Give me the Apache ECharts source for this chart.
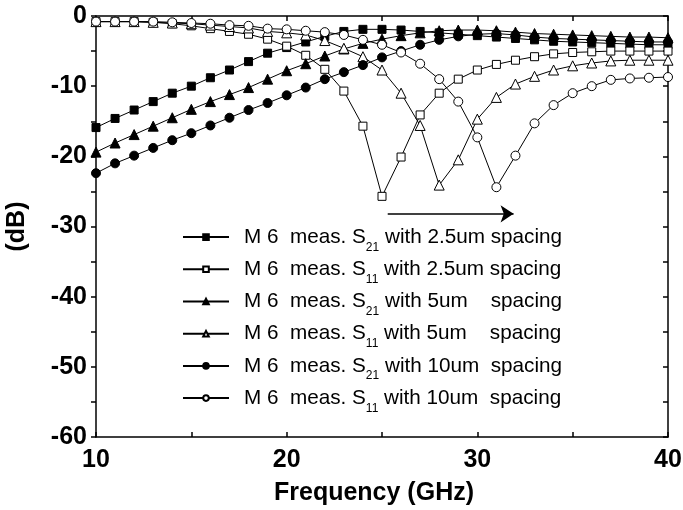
<!DOCTYPE html>
<html>
<head>
<meta charset="utf-8">
<script src="https://cdn.jsdelivr.net/npm/echarts@6/dist/echarts.min.js"></script>
<style>
  html, body { margin: 0; padding: 0; background: #fff; }
  #main { width: 683px; height: 510px; }
</style>
</head>
<body>
<div id="main"></div>
<script>
// frequency points (GHz)
var freq = [10, 11, 12, 13, 14, 15, 16, 17, 18, 19, 20, 21, 22, 23, 24, 25,
            26, 27, 28, 29, 30, 31, 32, 33, 34, 35, 36, 37, 38, 39, 40];

var s21_25 = [-15.9, -14.6, -13.4, -12.2, -11.0, -10.0, -8.8, -7.7, -6.5, -5.3, -4.5, -3.7, -2.9, -2.2, -1.9, -1.9,
              -2.0, -2.2, -2.4, -2.6, -2.8, -3.0, -3.2, -3.4, -3.6, -3.7, -3.8, -3.9, -4.0, -4.1, -4.1];
var s11_25 = [-0.8, -0.8, -0.8, -0.9, -1.1, -1.4, -1.8, -2.2, -2.6, -3.3, -4.3, -5.6, -7.6, -10.7, -15.7, -25.7,
              -20.1, -14.1, -11.0, -9.0, -7.7, -6.9, -6.3, -5.8, -5.4, -5.2, -5.1, -5.0, -5.0, -5.0, -5.0];
var s21_5 = [-19.4, -18.1, -16.9, -15.7, -14.5, -13.3, -12.2, -11.2, -10.2, -9.0, -7.8, -6.8, -5.7, -4.7, -3.9, -3.3,
             -2.8, -2.4, -2.1, -2.0, -2.0, -2.1, -2.3, -2.5, -2.6, -2.7, -2.8, -2.9, -3.0, -3.0, -3.1];
var s11_5 = [-0.8, -0.8, -0.8, -0.9, -1.0, -1.1, -1.3, -1.5, -1.7, -2.2, -2.4, -2.7, -3.5, -4.6, -5.8, -7.7,
             -11.0, -15.6, -24.1, -20.5, -14.7, -11.6, -9.7, -8.6, -7.7, -7.1, -6.7, -6.4, -6.3, -6.3, -6.3];
var s21_10 = [-22.4, -21.0, -19.9, -18.8, -17.7, -16.7, -15.6, -14.5, -13.4, -12.4, -11.3, -10.2, -9.0, -8.0, -7.0, -5.9,
              -5.0, -4.1, -3.4, -2.9, -2.6, -2.5, -2.7, -3.0, -3.2, -3.3, -3.4, -3.5, -3.6, -3.7, -3.7];
var s11_10 = [-0.8, -0.8, -0.8, -0.8, -0.9, -1.0, -1.1, -1.3, -1.4, -1.8, -1.9, -2.1, -2.3, -2.7, -3.4, -4.1,
              -5.2, -6.8, -9.0, -12.2, -17.3, -24.4, -19.9, -15.3, -12.7, -11.0, -10.0, -9.1, -8.9, -8.8, -8.7];

var names = [
  'M 6  meas. S21 with 2.5um spacing',
  'M 6  meas. S11 with 2.5um spacing',
  'M 6  meas. S21 with 5um    spacing',
  'M 6  meas. S11 with 5um    spacing',
  'M 6  meas. S21 with 10um  spacing',
  'M 6  meas. S11 with 10um  spacing'
];

// arrow annotation (GHz, dB)
var arrowStart = [25.3, -28.2];
var arrowEnd = [31.9, -28.2];

function pairs(ys) {
  return freq.map(function (f, i) { return [f, ys[i]]; });
}

var font = 'Liberation Sans, Arial, sans-serif';

function makeSeries(name, ys, symbol, size, filled) {
  return {
    name: name,
    type: 'line',
    data: pairs(ys),
    symbol: symbol,
    symbolSize: size,
    showSymbol: true,
    showAllSymbol: true,
    lineStyle: { color: '#000', width: 1 },
    itemStyle: { color: filled ? '#000' : '#fff', borderColor: '#000', borderWidth: 1 },
    emphasis: { disabled: true },
    animation: false
  };
}

var series = [
  makeSeries(names[0], s21_25, 'rect', 8, true),
  makeSeries(names[1], s11_25, 'rect', 8, false),
  makeSeries(names[2], s21_5, 'triangle', 10, true),
  makeSeries(names[3], s11_5, 'triangle', 10, false),
  makeSeries(names[4], s21_10, 'circle', 9, true),
  makeSeries(names[5], s11_10, 'circle', 9, false)
];

series[0].markLine = {
  silent: true,
  symbol: ['none', 'arrow'],
  symbolSize: 13,
  label: { show: false },
  lineStyle: { color: '#000', width: 1.5, type: 'solid' },
  data: [[{ coord: arrowStart }, { coord: arrowEnd }]]
};

var axisCommon = {
  axisLine: { onZero: false, lineStyle: { color: '#000', width: 1.5 } },
  splitLine: { show: false }
};

var labelStyle = { fontFamily: font, fontSize: 25, fontWeight: 'bold', color: '#000' };

var myChart = echarts.init(document.getElementById('main'));
myChart.setOption({
  animation: false,
  backgroundColor: '#fff',
  grid: { left: 96, right: 15, top: 16, bottom: 73, outerBoundsMode: 'none' },
  legend: {
    orient: 'vertical',
    left: 177,
    top: 216,
    itemWidth: 46,
    itemHeight: 7,
    itemGap: 0,
    data: names,
    formatter: function (n) {
      return n.replace(/S(21|11)/, 'S{sub|$1}');
    },
    textStyle: {
      fontFamily: font,
      fontSize: 20.7,
      color: '#000',
      lineHeight: 32.2,
      padding: [0, 0, 0, 10],
      rich: {
        sub: { fontFamily: font, fontSize: 12, color: '#000', lineHeight: 9, verticalAlign: 'bottom' }
      }
    }
  },
  xAxis: [Object.assign({
    type: 'value',
    min: 10,
    max: 40,
    interval: 10,
    name: 'Frequency (GHz)',
    nameLocation: 'middle',
    nameGap: 44,
    nameTextStyle: Object.assign({ padding: [0, 16, 0, 0] }, labelStyle),
    axisTick: { inside: true, length: 5, lineStyle: { color: '#000', width: 1.5 } },
    minorTick: { show: true, splitNumber: 2, length: 5, lineStyle: { color: '#000', width: 1.5 } },
    axisLabel: Object.assign({ margin: 11 }, labelStyle)
  }, axisCommon), Object.assign({
    type: 'value',
    position: 'top',
    min: 10,
    max: 40,
    interval: 10,
    axisTick: { inside: true, length: 5, lineStyle: { color: '#000', width: 1.5 } },
    minorTick: { show: true, splitNumber: 2, length: 5, lineStyle: { color: '#000', width: 1.5 } },
    axisLabel: { show: false }
  }, axisCommon)],
  yAxis: [Object.assign({
    type: 'value',
    min: -60,
    max: 0,
    interval: 10,
    name: '(dB)',
    nameLocation: 'middle',
    nameRotate: 90,
    nameGap: 66,
    nameTextStyle: labelStyle,
    axisTick: { inside: false, length: 5, lineStyle: { color: '#000', width: 1.5 } },
    minorTick: { show: true, splitNumber: 2, length: 5, lineStyle: { color: '#000', width: 1.5 } },
    axisLabel: Object.assign({ margin: 9 }, labelStyle)
  }, axisCommon), Object.assign({
    type: 'value',
    position: 'right',
    min: -60,
    max: 0,
    interval: 10,
    axisTick: { inside: true, length: 5, lineStyle: { color: '#000', width: 1.5 } },
    minorTick: { show: true, splitNumber: 2, length: 5, lineStyle: { color: '#000', width: 1.5 } },
    axisLabel: { show: false }
  }, axisCommon)],
  series: series
});
</script>
</body>
</html>
